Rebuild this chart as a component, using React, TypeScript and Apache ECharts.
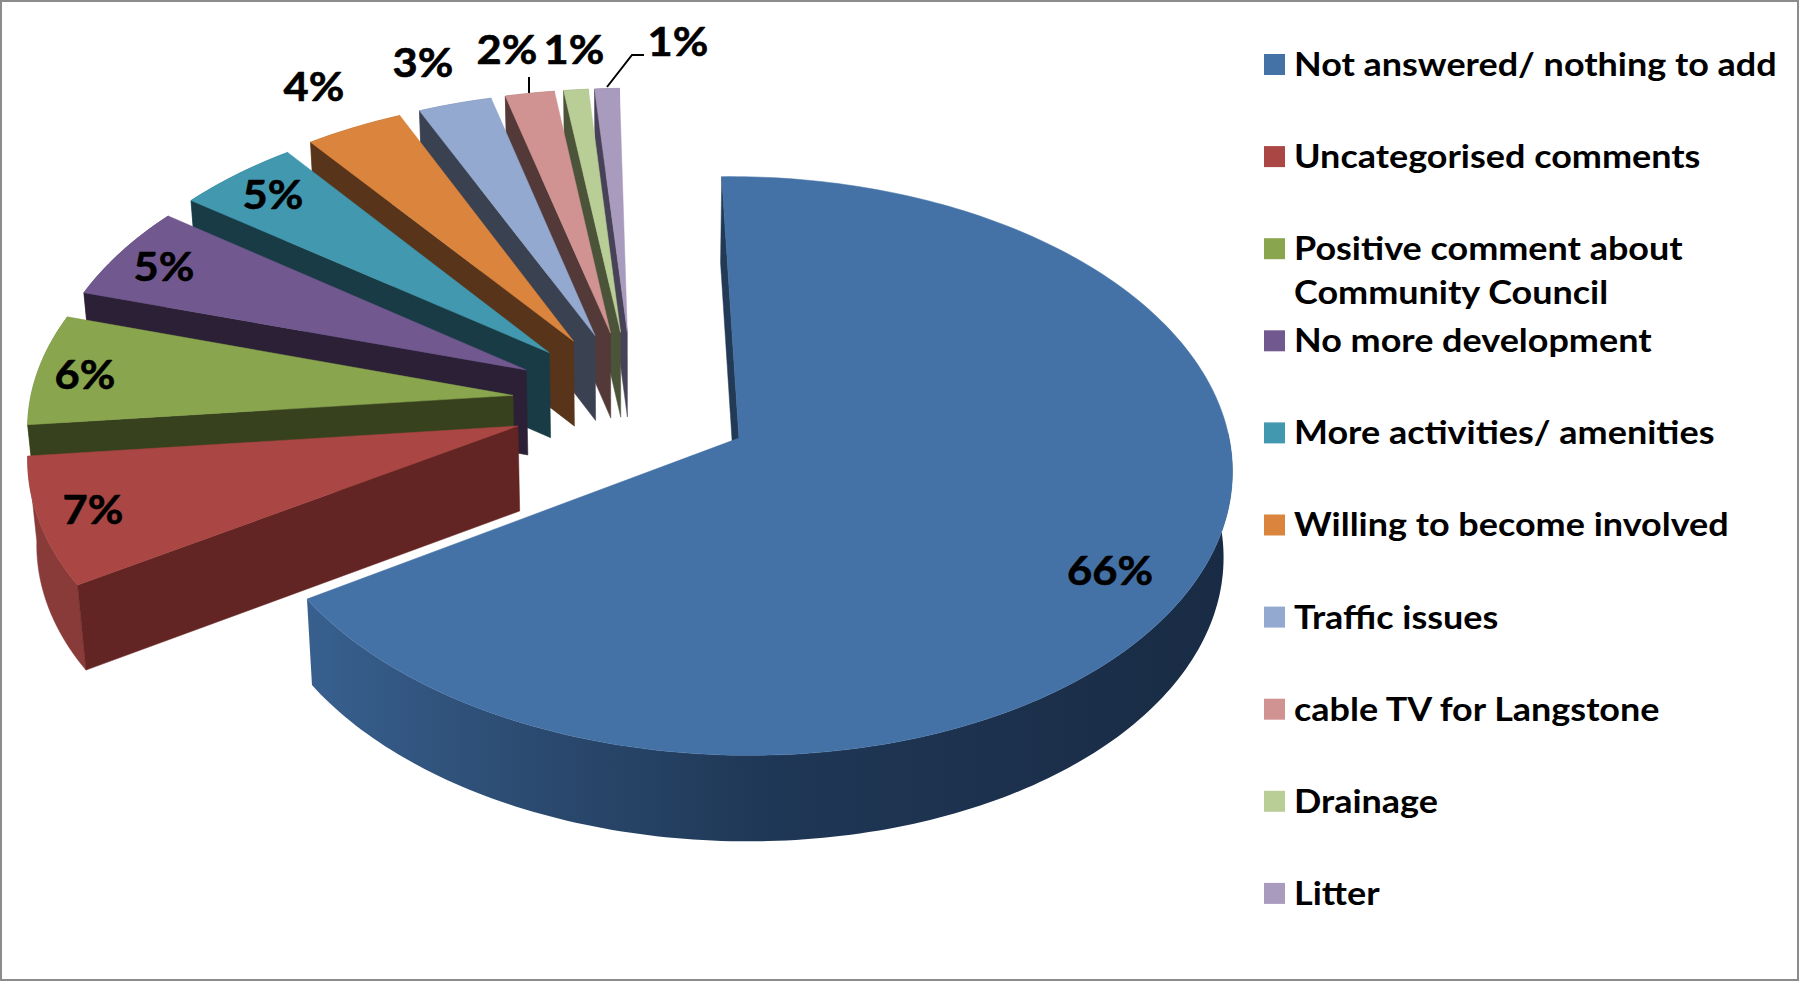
import React, { useEffect, useRef } from "react";
import * as echarts from "echarts";

const categories = [
  "Not answered/ nothing to add",
  "Uncategorised comments",
  "Positive comment about Community Council",
  "No more development",
  "More activities/ amenities",
  "Willing to become involved",
  "Traffic issues",
  "cable TV for Langstone",
  "Drainage",
  "Litter",
];
const legendLines = [
  ["Not answered/ nothing to add"],
  ["Uncategorised comments"],
  ["Positive comment about", "Community Council"],
  ["No more development"],
  ["More activities/ amenities"],
  ["Willing to become involved"],
  ["Traffic issues"],
  ["cable TV for Langstone"],
  ["Drainage"],
  ["Litter"],
];
const values = [73, 8, 7, 6, 5, 4, 3, 2, 1, 1];

const topColors = ["#4472A7", "#AA4643", "#89A54E", "#71588F", "#4198AF", "#DB843D", "#93A9CF", "#D19392", "#B9CD96", "#A99BBD"];
const cutColors = ["#223A55", "#632523", "#37411D", "#2B2035", "#193B45", "#58351A", "#3A4150", "#533938", "#4B5438", "#474257"];
const rimColors = ["#2A4666", "#893B39", "#6B803C", "#58446F", "#327688", "#AA6730", "#7283A1", "#A27271", "#909F75", "#837993"];

const labelPos = [
  [1110, 569], [93, 508], [85, 373], [164, 265], [273, 193],
  [314, 85], [423, 61], [507, 48], [574, 48], [678, 40],
];

// projection of the tilted pie
const X0 = 637, Y0 = 397, A = 487, B = 279, K = 0.095, BOTTOM = 0.985;
const START = -1.1;
const explode = [0.245, 0.25, 0.25, 0.25, 0.25, 0.25, 0.25, 0.25, 0.25, 0.25];
const dirShift = [7, 0, 0, 0, 0, 0, 0, 0, 0, 0];
const originDx = [4, -4, -4, -4, -3, -3, -3, -4, -4, -4];
const originDy = [1, 6, 5, 4, 4, 3, 3, 3, 3, 3];
const widthScale = [0.993, 0.992, 0.992, 0.992, 0.995, 0.997, 1, 1, 1, 1];
const depths = [86, 85, 85, 85, 85, 85, 85, 85, 85, 85];

const rad = (d: number) => (d * Math.PI) / 180;
const proj = (i: number, u: number, v: number, low: boolean): number[] => {
  const d = 1 + K * v;
  const X = (A * widthScale[i] * u) / d;
  const Y = (-B * v) / d;
  const ox = X0 + originDx[i];
  const oy = Y0 + originDy[i];
  return low ? [ox + X * BOTTOM, oy + Y + depths[i]] : [ox + X, oy + Y];
};

function renderItem(params: any, api: any) {
  const i = params.dataIndex;
  const total = values.reduce((a, b) => a + b, 0);
  let before = 0;
  for (let j = 0; j < i; j++) before += values[j];
  const value = api.value(0);
  const a0 = START + (before / total) * 360;
  const a1 = a0 + (value / total) * 360;
  const mid = (a0 + a1) / 2 + dirShift[i];
  const eu = explode[i] * Math.sin(rad(mid));
  const ev = explode[i] * Math.cos(rad(mid));
  const steps = Math.max(4, Math.ceil(a1 - a0));
  const rimTop: number[][] = [];
  const rimLow: number[][] = [];
  for (let s = 0; s <= steps; s++) {
    const t = rad(a0 + ((a1 - a0) * s) / steps);
    rimTop.push(proj(i, eu + Math.sin(t), ev + Math.cos(t), false));
    rimLow.push(proj(i, eu + Math.sin(t), ev + Math.cos(t), true));
  }
  const apexTop = proj(i, eu, ev, false);
  const apexLow = proj(i, eu, ev, true);
  const z = (values.length - i) * 10;
  const poly = (points: number[][], fill: any, dz: number) => ({
    type: "polygon",
    z2: z + dz,
    shape: { points },
    style: { fill, stroke: typeof fill === "string" ? fill : undefined, lineWidth: 0.5 },
  });
  const rimFill: any =
    i === 0
      ? new echarts.graphic.LinearGradient(0, 0, 1, 0, [
          { offset: 0, color: "#38608F" },
          { offset: 0.25, color: "#2B4A6F" },
          { offset: 0.5, color: "#1F3756" },
          { offset: 1, color: "#192B44" },
        ])
      : rimColors[i];
  const rimPoly = i === 0
    ? rimTop.slice(90).concat(rimLow.slice(90).reverse())
    : rimTop.concat(rimLow.slice().reverse());
  const [lx, ly] = labelPos[i];
  return {
    type: "group",
    children: [
      poly(rimPoly, rimFill, 0),
      poly([apexTop, rimTop[0], rimLow[0], apexLow], cutColors[i], 1),
      poly([apexTop, ...rimTop], topColors[i], 2),
      {
        type: "text",
        z2: 500,
        x: lx,
        y: ly,
        scaleX: 1.06,
        style: {
          text: Math.round((value / total) * 100) + "%",
          x: 0,
          y: 0,
          fill: "#000",
          stroke: "#000",
          lineWidth: 0.6,
          font: "bold 41px Lato",
          textAlign: "center",
          textVerticalAlign: "middle",
        },
      },
    ],
  };
}

const legendGraphics: any[] = [];
legendLines.forEach((lines, i) => {
  const cy = 63 + i * 92.1;
  legendGraphics.push({
    type: "rect",
    shape: { x: 1264, y: cy - 9, width: 21, height: 21 },
    style: { fill: topColors[i] },
  });
  lines.forEach((line, j) => {
    legendGraphics.push({
      type: "text",
      x: 1294,
      y: cy + j * 44,
      scaleX: 1.09,
      style: {
        text: line,
        x: 0,
        y: 0,
        fill: "#000",
        font: "bold 33px Lato",
        textAlign: "left",
        textVerticalAlign: "middle",
      },
    });
  });
});

export default function App() {
  const ref = useRef<HTMLDivElement>(null);
  useEffect(() => {
    document.body.style.margin = "0";
    const chart = echarts.init(ref.current!, undefined, { renderer: "svg" });
    chart.setOption({
      animation: false,
      backgroundColor: "#fff",
      graphic: [
        {
          type: "rect",
          shape: { x: 1, y: 1, width: 1797, height: 979 },
          style: { fill: "none", stroke: "#8C8C8C", lineWidth: 2 },
        },
        {
          type: "polyline",
          shape: { points: [[529, 77], [529, 93]] },
          style: { stroke: "#000", lineWidth: 2, fill: "none" },
        },
        {
          type: "polyline",
          shape: { points: [[607, 87], [632, 55], [644, 55]] },
          style: { stroke: "#000", lineWidth: 2, fill: "none" },
        },
        ...legendGraphics,
      ],
      series: [
        {
          type: "custom",
          coordinateSystem: "none",
          renderItem,
          data: values.map((v, i) => ({ name: categories[i], value: [v] })),
        },
      ],
    });
    return () => chart.dispose();
  }, []);
  return <div ref={ref} style={{ width: 1800, height: 981, fontVariantLigatures: "none" }} />;
}
